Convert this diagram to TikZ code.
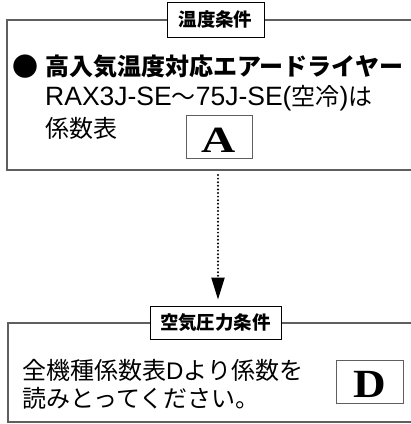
\documentclass[tikz,border=0pt]{standalone}
\usepackage{fontspec}
\usetikzlibrary{positioning,calc,arrows.meta}
\newfontfamily\jpfont{Noto Sans CJK JP}
\newfontfamily\latfont{Liberation Sans}
\newfontfamily\capAfont[FakeStretch=1.28]{Liberation Serif}
\newfontfamily\capDfont[FakeStretch=1.13]{Liberation Serif}
\newcommand\latin[1]{{\latfont\fontsize{26.5}{28}\selectfont #1}}
\definecolor{FrameGray}{RGB}{95,95,95}
\tikzset{
	frame/.style={draw=FrameGray,line width=1.2pt},
	tag/.style={draw=black,fill=white,line width=0.9pt,inner sep=0pt,
		font=\jpfont\bfseries\fontsize{18.5}{20}\selectfont},
	letterbox/.style={draw=FrameGray,line width=0.9pt,inner sep=0pt,text depth=0pt},
	body/.style={anchor=west,inner sep=0pt,font=\jpfont\fontsize{24}{26}\selectfont},
	flow/.style={draw=black,line width=2.2pt,line cap=round,dash pattern=on 0pt off 3.6pt,
		-{Triangle[length=22pt,width=13pt]},shorten >=6pt},
}

\begin{document}
\begin{tikzpicture}[x=1pt,y=-1pt]
	\useasboundingbox (0,0) rectangle (411,424);
	% upper frame
	\draw[frame] (411,20) -- (7,20) -- (7,170) -- (411,170);
	\node[tag,minimum width=97pt,minimum height=35pt] (tempTag) at (215.5,19.5) {温度条件};
	\node[body,font=\jpfont\fontsize{26}{28}\selectfont] (bullet) at (12,67) {●};
	\node[body,font=\jpfont\bfseries\fontsize{24}{26}\selectfont] (dryer) at (45,67) {高入気温度対応エアードライヤー};
	\node[body] (models) at (45,98) {\latin{RAX3J-SE}～\latin{75J-SE(}空冷\latin{)}は};
	\node[body] (tableA) at (45,128) {係数表};
	\node[letterbox,minimum width=66pt,minimum height=43pt,text height=31.5pt,
		font=\capAfont\bfseries\fontsize{37}{39}\selectfont] (boxA) at (219,136.5) {A};
	% lower frame
	\draw[frame] (411,323) -- (8,323) -- (8,422) -- (411,422);
	\node[tag,minimum width=131pt,minimum height=33pt] (pressTag) at (215.5,322.5) {空気圧力条件};
	\node[body] (allModels) at (22,370) {全機種係数表{\latfont D}より係数を};
	\node[body] (readOff) at (22,398) {読みとってください。};
	\node[letterbox,minimum width=67pt,minimum height=43pt,text height=32.5pt,
		font=\capDfont\bfseries\fontsize{40}{42}\selectfont] (boxD) at (369.5,381.5) {D};
	% connector
	\coordinate (arrowtop) at (218,175);
	\draw[flow] (arrowtop) -- (arrowtop |- pressTag.north);
\end{tikzpicture}
\end{document}
